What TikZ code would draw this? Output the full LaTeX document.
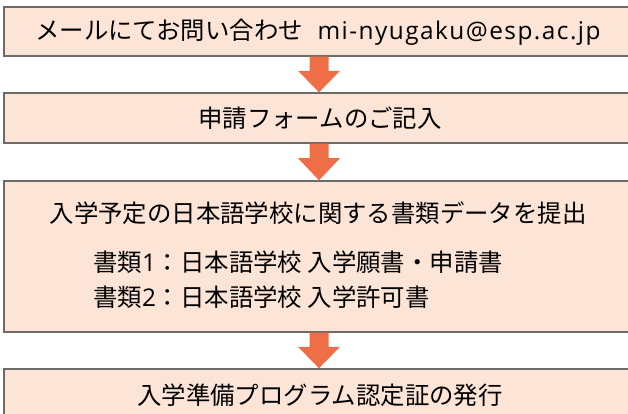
\documentclass[tikz,border=0pt]{standalone}
\usepackage{fontspec}
\usetikzlibrary{calc}
\setmainfont{Noto Sans CJK JP}
\newfontfamily\latinfont{Open Sans}
\newfontfamily\latinwide[LetterSpace=6]{Open Sans}
\definecolor{boxfill}{HTML}{FCE4D6}
\definecolor{boxline}{HTML}{6E6A68}
\definecolor{arrowc}{HTML}{EE6E47}
\begin{document}
\begin{tikzpicture}[x=1pt,y=-1pt,
  stepbox/.style={fill=boxfill,draw=boxline,line width=1.3pt},
  flowarrow/.style={fill=arrowc,draw=none},
  txt/.style={inner sep=0pt,font=\fontsize{24.4}{28}\selectfont},
]
\useasboundingbox (0,0) rectangle (628,414);
\begin{scope}
\clip (0,0) rectangle (628,414);
\draw[stepbox] (4,7) rectangle (630,56);
\draw[stepbox] (4,93) rectangle (630,143);
\draw[stepbox] (4,181) rectangle (630,332);
\draw[stepbox] (4,369) rectangle (630,420);
\end{scope}
\coordinate (b1) at (319,56);
\coordinate (b2t) at (319,93);
\coordinate (b2) at (319,143);
\coordinate (b3t) at (319,181);
\coordinate (b3) at (319,332);
\coordinate (b4t) at (319,369);
\foreach \s/\t in {b1/b2t,b2/b3t,b3/b4t}{
  \fill[flowarrow] ($(\s)+(-9.5,0.7)$) -- ($(\s)+(9.5,0.7)$) -- ($(\s)!0.4!(\t)+(9.5,0)$) -- ($(\s)!0.4!(\t)+(21,0)$) -- ($(\t)+(0,-0.7)$) -- ($(\s)!0.4!(\t)+(-21,0)$) -- ($(\s)!0.4!(\t)+(-9.5,0)$) -- cycle;
}
\node[txt,anchor=west] (t1) at (35,32) {メールにてお問い合わせ\hspace{0.6em}{\latinwide mi-nyugaku@esp.ac.jp}};
\node[txt] (t2) at (320,118) {申請フォームのご記入};
\node[txt] (t3) at (318,213) {入学予定の日本語学校に関する書類データを提出};
\node[txt,anchor=west] (t4) at (93,262) {書類{\latinfont 1}：日本語学校 入学願書・申請書};
\node[txt,anchor=west] (t5) at (93,297) {書類{\latinfont 2}：日本語学校 入学許可書};
\node[txt] (t6) at (320,395) {入学準備プログラム認定証の発行};
\end{tikzpicture}
\end{document}
